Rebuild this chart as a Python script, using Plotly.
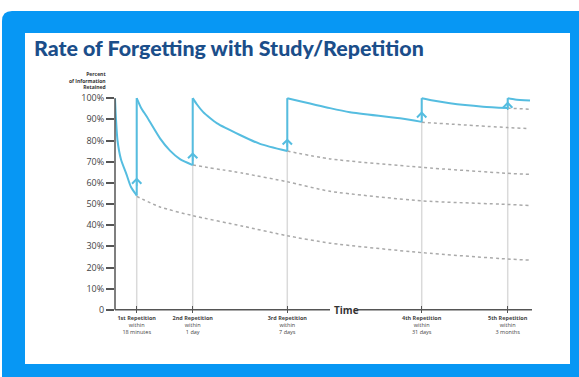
import plotly.graph_objects as go

# ---------------- data ----------------
rep_x = [21.7, 77.7, 172.3, 306.7, 392.7]
rep_labels = [
    "<b>1st Repetition</b><br>within<br>18 minutes",
    "<b>2nd Repetition</b><br>within<br>1 day",
    "<b>3rd Repetition</b><br>within<br>7 days",
    "<b>4th Repetition</b><br>within<br>31 days",
    "<b>5th Repetition</b><br>within<br>3 months",
]
arrow_y = [62.5, 74.5, 81.0, 93.8, 98.4]

# retention curve with study (segments joined by vertical jumps)
seg0_x = [0, 1, 2.5, 6, 11.5, 16, 21.7]
seg0_y = [100, 90, 80, 71, 64, 58, 54]
seg1_x = [21.7, 26, 31.7, 45, 55, 65, 77.7]
seg1_y = [100, 95.5, 91.3, 81, 75.2, 71.2, 68.4]
seg2_x = [77.7, 82, 88, 95, 101.7, 125, 145, 172.3]
seg2_y = [100, 97, 93.5, 90.6, 88.2, 82.6, 78.4, 75]
seg3_x = [172.3, 215, 235, 285, 306.7]
seg3_y = [100, 95.3, 93.4, 90.5, 88.8]
seg4_x = [306.7, 318, 335, 368, 392.7]
seg4_y = [100, 98.9, 97.6, 96, 95.3]
seg5_x = [392.7, 400, 415]
seg5_y = [100, 99.4, 98.9]

# forgetting without further repetition (dashed)
d1_x = [21.7, 45, 77.7, 128, 172.3, 215, 306.7, 392.7, 414.3]
d1_y = [53.6, 48.6, 44.5, 39.5, 35, 31.5, 27, 24, 23.5]
d2_x = [77.7, 128.3, 172.3, 215, 306.7, 392.7, 414.3]
d2_y = [68.4, 64.5, 60.5, 56, 51.5, 49.8, 49.3]
d3_x = [172.3, 215, 306.7, 392.7, 414.3]
d3_y = [75, 71.3, 67.3, 64.5, 64]
d4_x = [306.7, 392.7, 414.3]
d4_y = [88.6, 86.1, 85.6]
d5_x = [392.7, 414.3]
d5_y = [95.3, 94.8]

y_ticks = [0, 10, 20, 30, 40, 50, 60, 70, 80, 90, 100]
y_ticktext = ["0", "10%", "20%", "30%", "40%", "50%", "60%", "70%", "80%", "90%", "100%"]

# ---------------- layout geometry ----------------
WIDTH, HEIGHT = 579, 377
ML, MR, MT, MB = 115, 44, 95, 64
L, R, T, B = ML, WIDTH - MR, MT, HEIGHT - MB
PW, PH = R - L, B - T

def px(p):
    return (p - L) / PW

def py(p):
    return (B - p) / PH

BLUE_BG = "#0797f4"
CURVE = "#55bde0"
AX = "#555555"

fig = go.Figure()

seg_xs = [seg0_x, seg1_x, seg2_x, seg3_x, seg4_x, seg5_x]
seg_ys = [seg0_y, seg1_y, seg2_y, seg3_y, seg4_y, seg5_y]

for dx, dy in [(d1_x, d1_y), (d2_x, d2_y), (d3_x, d3_y), (d4_x, d4_y), (d5_x, d5_y)]:
    fig.add_trace(go.Scatter(x=dx, y=dy, mode="lines",
                             line=dict(color="#aaaaaa", width=1.5, dash="3px,3px", shape="spline", smoothing=0.6),
                             hoverinfo="skip", showlegend=False))

for sx, sy in zip(seg_xs, seg_ys):
    fig.add_trace(go.Scatter(x=sx, y=sy, mode="lines",
                             line=dict(color=CURVE, width=2, shape="spline", smoothing=0.6),
                             hoverinfo="skip", showlegend=False))
# vertical jumps
prev_end = [seg0_y[-1], seg1_y[-1], seg2_y[-1], seg3_y[-1], seg4_y[-1]]
for rx, ly in zip(rep_x, prev_end):
    fig.add_trace(go.Scatter(x=[rx, rx], y=[ly, 100], mode="lines",
                             line=dict(color=CURVE, width=2),
                             hoverinfo="skip", showlegend=False))

shapes = []
# blue background with rounded top-left corner
x0, y0 = px(2), py(11)
x1, y1 = px(WIDTH + 5), py(HEIGHT + 5)
rx_, ry_ = 10 / PW, 10 / PH
shapes.append(dict(type="path", xref="paper", yref="paper", layer="below",
                   path=(f"M {x0},{y0 - ry_} Q {x0},{y0} {x0 + rx_},{y0} L {x1},{y0} "
                         f"L {x1},{y1} L {x0},{y1} Z"),
                   fillcolor=BLUE_BG, line=dict(width=0)))
# white inner panel
shapes.append(dict(type="rect", xref="paper", yref="paper", layer="below",
                   x0=px(25), x1=px(570), y0=py(33), y1=py(364),
                   fillcolor="white", line=dict(width=0)))
# light vertical guide lines
for rx in rep_x:
    shapes.append(dict(type="line", xref="x", yref="y", layer="below",
                       x0=rx, x1=rx, y0=0, y1=100,
                       line=dict(color="#dadada", width=1.5)))
# axes
shapes.append(dict(type="line", xref="paper", yref="y", x0=0, x1=0, y0=0, y1=100,
                   line=dict(color=AX, width=1.5)))
shapes.append(dict(type="line", xref="x", yref="y", x0=0, x1=215, y0=0, y1=0,
                   line=dict(color=AX, width=1.5)))
shapes.append(dict(type="line", xref="x", yref="y", x0=243, x1=417, y0=0, y1=0,
                   line=dict(color=AX, width=1.5)))

annotations = []
annotations.append(dict(text="Rate of Forgetting with Study/Repetition",
                        xref="paper", yref="paper", x=px(32), y=py(48),
                        xanchor="left", yanchor="middle", showarrow=False,
                        font=dict(family="Lato", size=21.4, color="#1b4e8a", weight=900)))
annotations.append(dict(text="<b>Percent<br>of Information<br>Retained</b>",
                        xref="paper", yref="paper", x=px(108), y=py(80),
                        xanchor="right", yanchor="middle", align="right", showarrow=False,
                        font=dict(family="Open Sans", size=5, color="#333333")))
annotations.append(dict(text="<b>Time</b>", xref="x", yref="y", x=217, y=0,
                        xanchor="left", yanchor="middle", showarrow=False,
                        font=dict(family="Open Sans", size=10, color="#333333")))
for rx, ay in zip(rep_x, arrow_y):
    annotations.append(dict(text="", xref="x", yref="y", x=rx, y=ay,
                            ax=0, ay=10, showarrow=True, arrowhead=4, arrowsize=1.2,
                            arrowwidth=1.5, arrowcolor=CURVE))

fig.update_layout(
    width=WIDTH, height=HEIGHT,
    margin=dict(l=ML, r=MR, t=MT, b=MB),
    paper_bgcolor="white", plot_bgcolor="rgba(0,0,0,0)",
    shapes=shapes, annotations=annotations,
    showlegend=False,
    xaxis=dict(range=[0, 420], showgrid=False, zeroline=False, showline=False,
               tickmode="array", tickvals=rep_x, ticktext=rep_labels,
               ticks="inside", ticklen=7, tickwidth=1.2, tickcolor=AX,
               tickfont=dict(family="Open Sans", size=5.5, color="#444444")),
    yaxis=dict(range=[-1.5, 101.5], showgrid=False, zeroline=False, showline=False,
               tickmode="array", tickvals=y_ticks, ticktext=y_ticktext,
               ticks="outside", ticklen=8, tickwidth=1.5, tickcolor=AX,
               tickfont=dict(family="Open Sans", size=9, color="#444444")),
)

fig.write_html("out.html", config={"displayModeBar": False},
               post_script="document.body.style.margin='0';")
